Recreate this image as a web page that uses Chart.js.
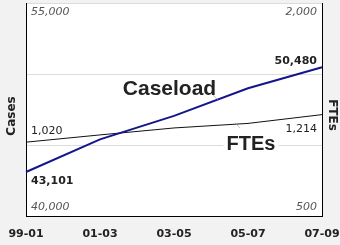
<!DOCTYPE html>
<html>
<head>
<meta charset="utf-8">
<script src="https://cdn.jsdelivr.net/npm/chart.js@4.4.1/dist/chart.umd.min.js"></script>
<style>
  html, body { margin: 0; padding: 0; background: #f2f2f2; }
  #wrap { width: 340px; height: 245px; position: relative; }
</style>
</head>
<body>
<div id="wrap"><canvas id="chart" width="340" height="245"></canvas></div>
<script>
// ==================== DATA ====================
const periods = ['99-01', '01-03', '03-05', '05-07', '07-09'];
const caseload = [43101, 45400, 47050, 49000, 50480];
const ftes = [1020, 1071, 1120, 1152, 1214];
const casesRange = [40000, 55000];
const ftesRange = [500, 2000];

const fmt = v => v.toLocaleString('en-US');

// ==================== LABELS PLUGIN ====================
const labelsPlugin = {
    id: 'labels',
    beforeDraw(chart) {
        const { ctx, chartArea: ca } = chart;
        ctx.save();
        ctx.fillStyle = '#f2f2f2';
        ctx.fillRect(0, 0, chart.width, chart.height);
        ctx.fillStyle = '#ffffff';
        ctx.fillRect(ca.left, ca.top, ca.right - ca.left, ca.bottom - ca.top);
        ctx.restore();
    },
    afterDatasetsDraw(chart) {
        const { ctx, chartArea: ca, scales } = chart;
        const yL = scales.y, yR = scales.y1;
        const last = periods.length - 1;
        ctx.save();
        ctx.textBaseline = 'middle';

        // axis range labels inside the plot
        ctx.font = 'italic 11px "DejaVu Sans"';
        ctx.fillStyle = '#555';
        ctx.textAlign = 'left';
        ctx.fillText(fmt(casesRange[1]), ca.left + 5, yL.getPixelForValue(casesRange[1]) + 9);
        ctx.fillText(fmt(casesRange[0]), ca.left + 5, yL.getPixelForValue(casesRange[0]) - 9);
        ctx.textAlign = 'right';
        ctx.fillText(fmt(ftesRange[1]), ca.right - 5, yR.getPixelForValue(ftesRange[1]) + 9);
        ctx.fillText(fmt(ftesRange[0]), ca.right - 5, yR.getPixelForValue(ftesRange[0]) - 9);

        // end values
        ctx.fillStyle = '#222';
        ctx.font = 'bold 11px "DejaVu Sans"';
        ctx.textAlign = 'left';
        ctx.fillText(fmt(caseload[0]), ca.left + 5, yL.getPixelForValue(caseload[0]) + 9);
        ctx.textAlign = 'right';
        ctx.fillText(fmt(caseload[last]), ca.right - 5, yL.getPixelForValue(caseload[last]) - 6);
        ctx.font = '11px "DejaVu Sans"';
        ctx.textAlign = 'left';
        ctx.fillText(fmt(ftes[0]), ca.left + 5, yR.getPixelForValue(ftes[0]) - 11);
        ctx.textAlign = 'right';
        ctx.fillText(fmt(ftes[last]), ca.right - 5, yR.getPixelForValue(ftes[last]) + 15);

        // series names with leader lines
        ctx.strokeStyle = '#999';
        ctx.lineWidth = 0.6;
        ctx.beginPath();
        ctx.moveTo(ca.left + 186, ca.top + 91);
        ctx.lineTo(ca.left + 192, ca.top + 97);
        ctx.moveTo(ca.left + 209, ca.top + 120);
        ctx.lineTo(ca.left + 214, ca.top + 125);
        ctx.stroke();

        ctx.textAlign = 'center';
        ctx.textBaseline = 'alphabetic';
        ctx.font = 'bold 21px "Liberation Sans"';
        ctx.fillText('Caseload', ca.left + 143.5, ca.top + 92);

        ctx.font = 'bold 20px "Liberation Sans"';
        const fx = ca.left + 225, fy = ca.top + 147;
        const fw = ctx.measureText('FTEs').width;
        ctx.fillStyle = '#ffffff';
        ctx.fillRect(fx - fw / 2 - 3, fy - 16, fw + 6, 20);
        ctx.fillStyle = '#222';
        ctx.fillText('FTEs', fx, fy);

        // axis titles
        ctx.font = 'bold 12px "DejaVu Sans"';
        ctx.textBaseline = 'middle';
        ctx.save();
        ctx.translate(12, 116);
        ctx.rotate(-Math.PI / 2);
        ctx.fillText('Cases', 0, 0);
        ctx.restore();
        ctx.save();
        ctx.translate(332, 115);
        ctx.rotate(Math.PI / 2);
        ctx.fillText('FTEs', 0, 0);
        ctx.restore();

        ctx.restore();
    }
};

// ==================== CHART ====================
new Chart(document.getElementById('chart').getContext('2d'), {
    type: 'line',
    data: {
        labels: periods,
        datasets: [
            {
                label: 'Caseload',
                data: caseload,
                yAxisID: 'y',
                borderColor: '#14148c',
                borderWidth: 2,
                pointRadius: 0,
                tension: 0,
            },
            {
                label: 'FTEs',
                data: ftes,
                yAxisID: 'y1',
                borderColor: '#111',
                borderWidth: 1,
                pointRadius: 0,
                tension: 0,
            }
        ]
    },
    options: {
        responsive: false,
        animation: false,
        layout: { padding: { top: 3, left: 0, right: 0, bottom: 0 } },
        plugins: { legend: { display: false }, tooltip: { enabled: false } },
        scales: {
            x: {
                offset: false,
                grid: { display: false, drawTicks: true, tickLength: 12 },
                border: { color: '#000', width: 1 },
                ticks: {
                    color: '#222',
                    font: { family: 'DejaVu Sans', size: 11, weight: 'bold' },
                    padding: 0,
                    maxRotation: 0,
                    autoSkip: false,
                },
                afterFit: s => { s.height = 29; }
            },
            y: {
                position: 'left',
                min: casesRange[0],
                max: casesRange[1],
                ticks: { display: false, stepSize: 5000 },
                grid: { color: '#dcdcdc', drawTicks: false },
                border: { color: '#000', width: 1 },
                afterFit: s => { s.width = 26; }
            },
            y1: {
                position: 'right',
                min: ftesRange[0],
                max: ftesRange[1],
                ticks: { display: false, stepSize: 500 },
                grid: { display: false, drawTicks: false },
                border: { color: '#000', width: 1 },
                afterFit: s => { s.width = 18; }
            }
        }
    },
    plugins: [labelsPlugin]
});
</script>
</body>
</html>
